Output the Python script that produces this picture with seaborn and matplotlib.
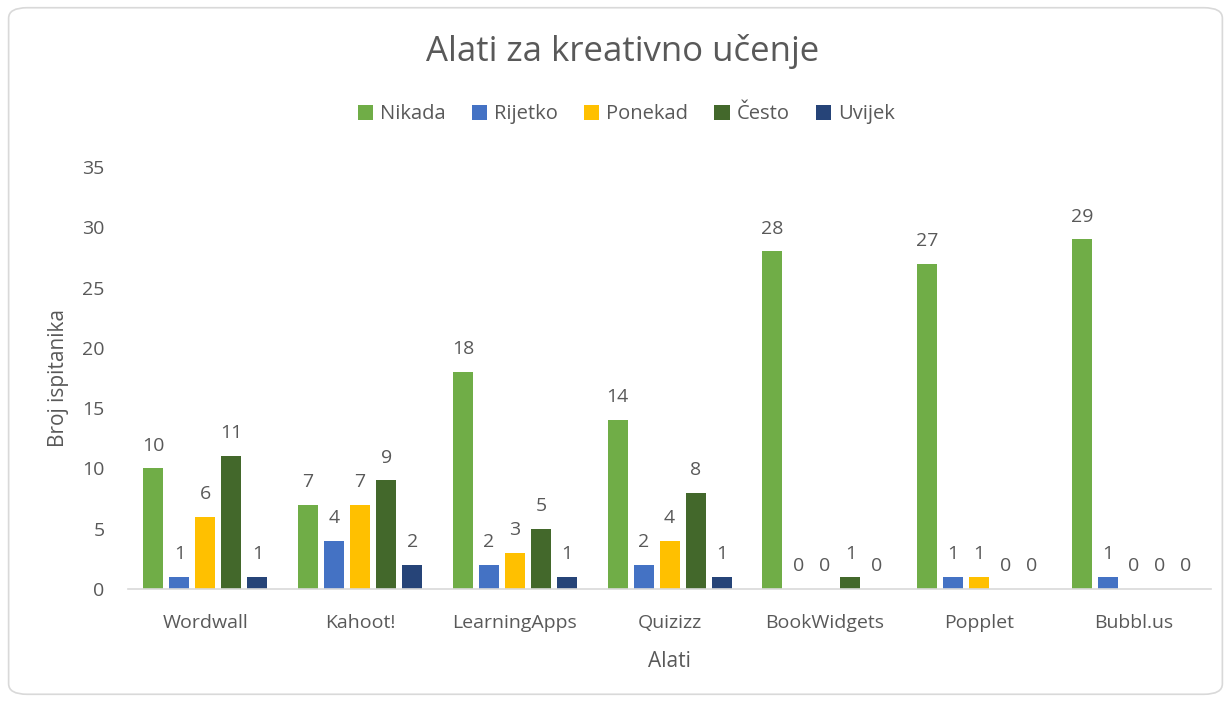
import pandas as pd
import matplotlib
matplotlib.use("Agg")
import matplotlib.pyplot as plt
import seaborn as sns
from matplotlib.patches import FancyBboxPatch

# podaci
alati = ["Wordwall", "Kahoot!", "LearningApps", "Quizizz", "BookWidgets", "Popplet", "Bubbl.us"]
nikada = [10, 7, 18, 14, 28, 27, 29]
rijetko = [1, 4, 2, 2, 0, 1, 1]
ponekad = [6, 7, 3, 4, 0, 1, 0]
cesto = [11, 9, 5, 8, 1, 0, 0]
uvijek = [1, 2, 1, 1, 0, 0, 0]

serije = ["Nikada", "Rijetko", "Ponekad", "Često", "Uvijek"]
boje = ["#70AD47", "#4472C4", "#FFC000", "#43682B", "#264478"]

rows = []
for naziv, vrijednosti in zip(serije, [nikada, rijetko, ponekad, cesto, uvijek]):
    for alat, v in zip(alati, vrijednosti):
        rows.append({"Alat": alat, "Odgovor": naziv, "Broj": v})
df = pd.DataFrame(rows)

sns.set_theme(style="white")
plt.rcParams['font.family'] = ['Open Sans', 'DejaVu Sans']
tekst = "#595959"

fig = plt.figure(figsize=(12.31, 7.02), dpi=100)
ax = fig.add_axes([0.104, 0.161, 0.880, 0.601])

sns.barplot(data=df, x="Alat", y="Broj", hue="Odgovor", order=alati,
            hue_order=serije, palette=boje, width=0.84, gap=0.23,
            saturation=1, errorbar=None, linewidth=0, ax=ax)

for cont in ax.containers:
    ax.bar_label(cont, fmt="%d", padding=10, fontsize=14, color=tekst)

ax.set_ylim(0, 35)
ax.set_yticks(range(0, 36, 5))
ax.tick_params(axis="both", length=0, labelsize=14, labelcolor=tekst)
ax.tick_params(axis="y", pad=17)
ax.tick_params(axis="x", pad=18)
for s in ["top", "right", "left"]:
    ax.spines[s].set_visible(False)
ax.spines["bottom"].set_color("#D9D9D9")
ax.spines["bottom"].set_linewidth(1.2)

ax.set_xlabel("Alati", fontsize=15, color=tekst, labelpad=14)
ax.set_ylabel("Broj ispitanika", fontsize=15, color=tekst, labelpad=9)

leg = ax.legend(loc="center", bbox_to_anchor=(0.46, 1.125), ncol=5, frameon=False,
                fontsize=14.5, handlelength=0.75, handleheight=0.75,
                handletextpad=0.35, columnspacing=1.3)
for t in leg.get_texts():
    t.set_color(tekst)

fig.text(0.506, 0.926, "Alati za kreativno učenje", ha="center", va="center",
         fontsize=25, color=tekst)

okvir = FancyBboxPatch((0.007, 0.011), 0.986, 0.978, transform=fig.transFigure,
                       boxstyle="round,pad=0,rounding_size=0.015",
                       facecolor="none", edgecolor="#D9D9D9", linewidth=1.2)
fig.patches.append(okvir)

fig.savefig("out.png", dpi=100)
